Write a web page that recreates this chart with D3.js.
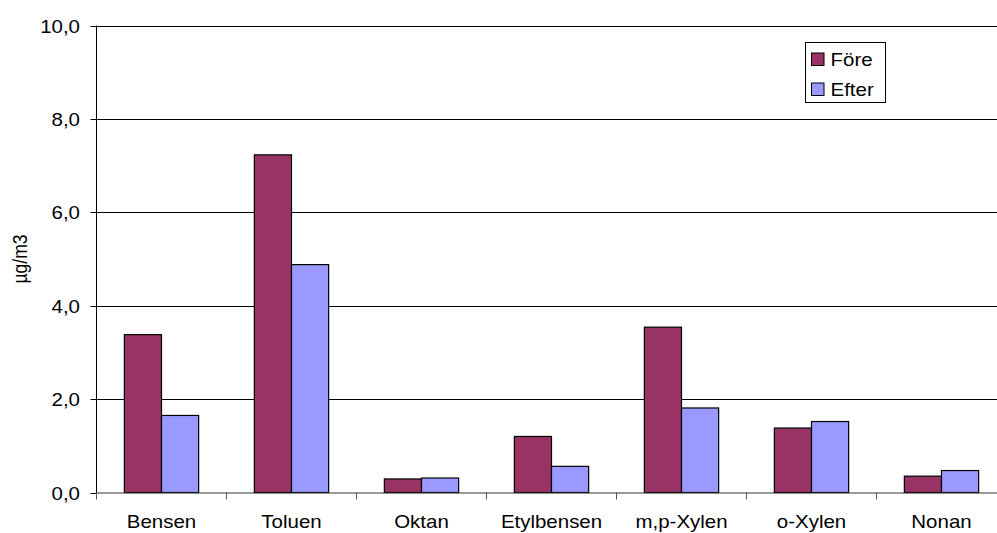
<!DOCTYPE html>
<html lang="sv">
<head>
<meta charset="utf-8">
<title>µg/m3</title>
<script src="https://cdn.jsdelivr.net/npm/d3@7"></script>
<style>
  body { margin: 0; background: #fff; }
  text { font-family: Arial, "Liberation Sans", sans-serif; fill: #000; }
</style>
</head>
<body>
<script>
var categories = ['Bensen', 'Toluen', 'Oktan', 'Etylbensen', 'm,p-Xylen', 'o-Xylen', 'Nonan'];
var fore  = [3.38, 7.23, 0.29, 1.20, 3.54, 1.38, 0.35];
var efter = [1.65, 4.88, 0.31, 0.56, 1.81, 1.52, 0.47];
var seriesNames = ['Före', 'Efter'];
var yTicks = [0, 2, 4, 6, 8, 10];

var w = 997, h = 533;
var plotL = 96.5, plotR = 1006.5, plotT = 25.5, plotB = 492.5;
var colors = {'Före': '#993366', 'Efter': '#9999FF'};
var fs = 17.5, sx = 1.17; // text is drawn a bit wider than tall

var rows = categories.map(function(c, i) {
  return {cat: c, 'Före': fore[i], 'Efter': efter[i]};
});

var svg = d3.select('body').append('svg').attr('width', w).attr('height', h);

var x = d3.scaleBand().domain(categories).range([plotL, plotR])
  .paddingInner(0.75 / 1.75).paddingOuter(0.375 / 1.75);
var xs = d3.scaleBand().domain(seriesNames).range([0, x.bandwidth()]);
var y = d3.scaleLinear().domain([0, 10]).range([plotB, plotT]);

function label(g, str, tx, ty, anchor, rot) {
  g.append('text')
    .attr('transform', 'translate(' + tx + ',' + ty + ') scale(' + sx + ',1)' + (rot ? ' rotate(' + rot + ')' : ''))
    .attr('text-anchor', anchor)
    .style('font-size', fs + 'px')
    .text(str);
}

// gridlines
svg.append('g').selectAll('line').data(yTicks.slice(1)).enter().append('line')
  .attr('x1', plotL).attr('x2', plotR)
  .attr('y1', function(d) { return Math.round(y(d)) + 0.5; })
  .attr('y2', function(d) { return Math.round(y(d)) + 0.5; })
  .attr('stroke', '#000').attr('stroke-width', 1);

// bars
svg.append('g').selectAll('g').data(rows).enter().append('g')
  .attr('transform', function(d) { return 'translate(' + x(d.cat) + ',0)'; })
  .selectAll('rect')
  .data(function(d) { return seriesNames.map(function(s) { return {s: s, v: d[s]}; }); })
  .enter().append('rect')
  .attr('x', function(d) { return xs(d.s); })
  .attr('width', xs.bandwidth())
  .attr('y', function(d) { return y(d.v); })
  .attr('height', function(d) { return y(0) - y(d.v); })
  .attr('fill', function(d) { return colors[d.s]; })
  .attr('stroke', '#000').attr('stroke-width', 1.2);

// y axis
var ya = svg.append('g');
ya.append('line').attr('x1', plotL).attr('x2', plotL).attr('y1', plotT).attr('y2', plotB + 6)
  .attr('stroke', '#000');
yTicks.forEach(function(t) {
  var ty = Math.round(y(t)) + 0.5;
  ya.append('line').attr('x1', plotL - 6).attr('x2', plotL).attr('y1', ty).attr('y2', ty).attr('stroke', '#000');
  label(ya, d3.format('.1f')(t).replace('.', ','), 80, ty + 6.5, 'end');
});
label(ya, 'µg/m3', 27, (plotT + plotB) / 2, 'middle', -90);

// x axis
var xa = svg.append('g');
xa.append('line').attr('x1', plotL).attr('x2', plotR).attr('y1', plotB + 0.5).attr('y2', plotB + 0.5)
  .attr('stroke', '#333');
categories.forEach(function(c) {
  var bx = x(c) - x.paddingOuter() * x.step();
  xa.append('line').attr('x1', bx).attr('x2', bx).attr('y1', plotB).attr('y2', plotB + 7)
    .attr('stroke', '#555');
  label(xa, c, x(c) + x.bandwidth() / 2, 528, 'middle');
});

// legend
var lg = svg.append('g');
lg.append('rect').attr('x', 805.5).attr('y', 42.5).attr('width', 80).attr('height', 60)
  .attr('fill', '#fff').attr('stroke', '#000');
seriesNames.forEach(function(s, i) {
  lg.append('rect').attr('x', 811.5).attr('y', 53 + i * 30).attr('width', 12.5).attr('height', 12.5)
    .attr('fill', colors[s]).attr('stroke', '#000');
  label(lg, s, 830.5, 65.5 + i * 30, 'start');
});
</script>
</body>
</html>
